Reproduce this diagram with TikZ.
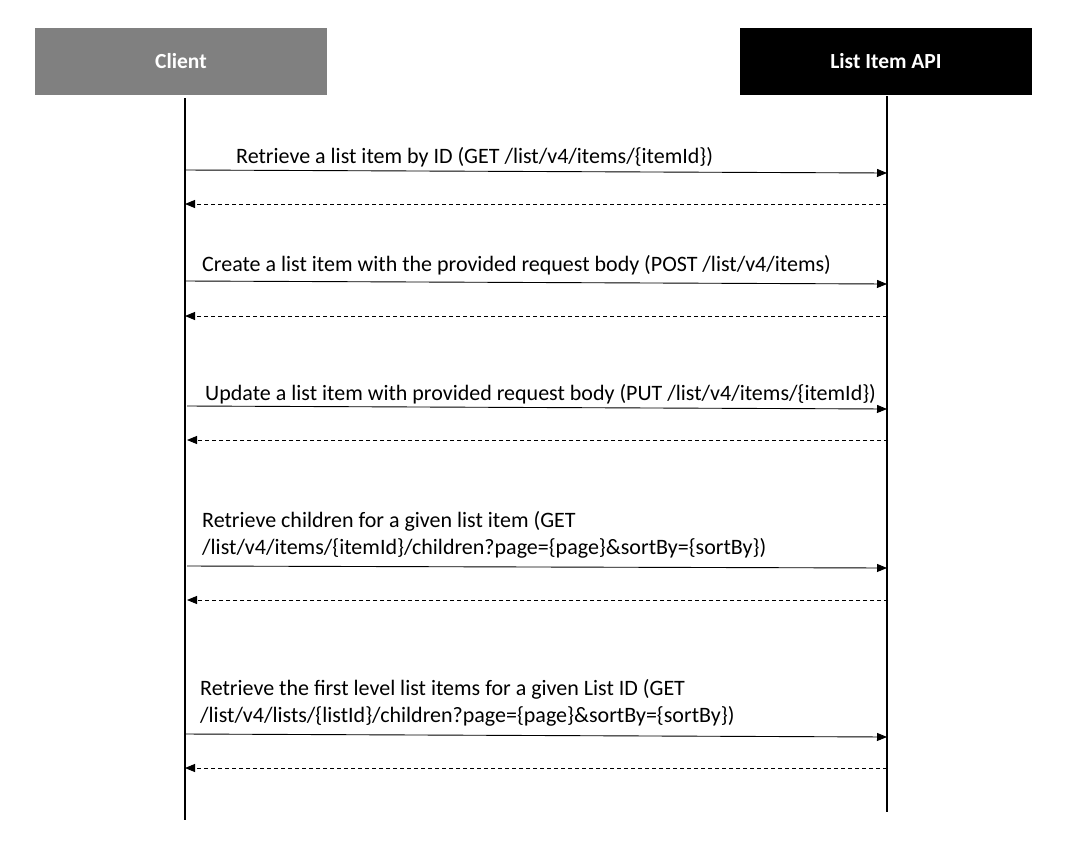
\documentclass[tikz,border=0pt]{standalone}
\usepackage{fontspec}
\setmainfont{Carlito}
\usetikzlibrary{arrows.meta}
\begin{document}
\begin{tikzpicture}[x=1pt,y=-1pt,
  header/.style={minimum width=292pt,minimum height=67pt,inner sep=0pt,text=white,font=\fontsize{21.5}{25}\selectfont\bfseries},
  lifeline/.style={line width=1.8pt},
  msg/.style={line width=0.9pt,-{Triangle[length=10pt,width=8pt]}},
  ret/.style={line width=0.9pt,dash pattern=on 4pt off 3pt,-{Triangle[length=10pt,width=8pt]}},
  lbl/.style={anchor=base west,inner sep=0pt,font=\fontsize{22}{26.5}\selectfont,align=left}]
\useasboundingbox (0,0) rectangle (1071,860);
\node[header,fill={rgb,255:red,128;green,128;blue,128}] (client) at (181,61.5) {Client};
\node[header,fill=black] (api) at (886,61.5) {List Item API};
\coordinate (cTop) at (185,98);
\coordinate (cBot) at (185,820);
\coordinate (aTop) at (887,96);
\coordinate (aBot) at (887,812);
\draw[lifeline] (cTop) -- (cBot);
\draw[lifeline] (aTop) -- (aBot);
% message 1
\coordinate (m1s) at (185,170); \coordinate (m1e) at (887,173);
\coordinate (r1s) at (887,204); \coordinate (r1e) at (185,204);
\draw[msg] (m1s) -- (m1e);
\draw[ret] (r1s) -- (r1e);
\node[lbl] (t1) at (236,163) {Retrieve a list item by ID (GET /list/v4/items/\{itemId\})};
% message 2
\coordinate (m2s) at (185,281); \coordinate (m2e) at (887,284);
\coordinate (r2s) at (887,316); \coordinate (r2e) at (185,316);
\draw[msg] (m2s) -- (m2e);
\draw[ret] (r2s) -- (r2e);
\node[lbl] (t2) at (202,271) {Create a list item with the provided request body (POST /list/v4/items)};
% message 3
\coordinate (m3s) at (187,406); \coordinate (m3e) at (887,409);
\coordinate (r3s) at (888,440); \coordinate (r3e) at (187,440);
\draw[msg] (m3s) -- (m3e);
\draw[ret] (r3s) -- (r3e);
\node[lbl] (t3) at (205,400) {Update a list item with provided request body (PUT /list/v4/items/\{itemId\})};
% message 4
\coordinate (m4s) at (187,566); \coordinate (m4e) at (887,568);
\coordinate (r4s) at (888,600); \coordinate (r4e) at (187,600);
\draw[msg] (m4s) -- (m4e);
\draw[ret] (r4s) -- (r4e);
\node[lbl] (t4) at (202,554) {Retrieve children for a given list item (GET\\/list/v4/items/\{itemId\}/children?page=\{page\}\&sortBy=\{sortBy\})};
% message 5
\coordinate (m5s) at (185,734); \coordinate (m5e) at (887,737);
\coordinate (r5s) at (887,768); \coordinate (r5e) at (185,768);
\draw[msg] (m5s) -- (m5e);
\draw[ret] (r5s) -- (r5e);
\node[lbl] (t5) at (200,722) {Retrieve the first level list items for a given List ID (GET\\/list/v4/lists/\{listId\}/children?page=\{page\}\&sortBy=\{sortBy\})};
\end{tikzpicture}
\end{document}
